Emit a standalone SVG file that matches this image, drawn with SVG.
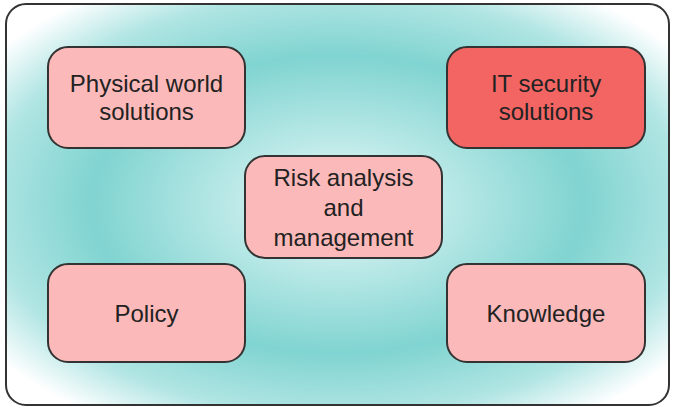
<svg xmlns="http://www.w3.org/2000/svg" width="673" height="408" viewBox="0 0 673 408">
<defs>
<radialGradient id="bg" cx="0.5" cy="0.5" r="0.64" gradientUnits="objectBoundingBox">
<stop offset="0" stop-color="#eaf9f9"/>
<stop offset="0.3" stop-color="#b2e6e4"/>
<stop offset="0.58" stop-color="#80d4d1"/>
<stop offset="0.82" stop-color="#b0e5e3"/>
<stop offset="1" stop-color="#ffffff"/>
</radialGradient>
</defs>
<style>
.n{stroke:#333;stroke-width:2}
.p{fill:#fbb9b9}
.r{fill:#f26562}
text{font-family:"Liberation Sans",Arial,sans-serif;font-size:24px;fill:#222;text-anchor:middle}
</style>
<rect x="0" y="0" width="673" height="408" fill="#fff"/>
<rect id="frame" x="6" y="4" width="663" height="401" rx="20" fill="url(#bg)" stroke="#333" stroke-width="2"/>
<g id="connectors"/>
<g id="physical"><rect class="n p" x="48" y="47" width="197" height="101" rx="20"/><text x="146.5" y="92">Physical world</text><text x="146.5" y="120">solutions</text></g>
<g id="itsecurity"><rect class="n r" x="447" y="47" width="198" height="101" rx="20"/><text x="546" y="92">IT security</text><text x="546" y="120">solutions</text></g>
<g id="risk"><rect class="n p" x="245" y="156" width="197" height="102" rx="20"/><text x="343.5" y="186">Risk analysis</text><text x="343.5" y="216">and</text><text x="343.5" y="246">management</text></g>
<g id="policy"><rect class="n p" x="48" y="264" width="197" height="98" rx="20"/><text x="146.5" y="322">Policy</text></g>
<g id="knowledge"><rect class="n p" x="447" y="264" width="198" height="98" rx="20"/><text x="546" y="322">Knowledge</text></g>
</svg>
